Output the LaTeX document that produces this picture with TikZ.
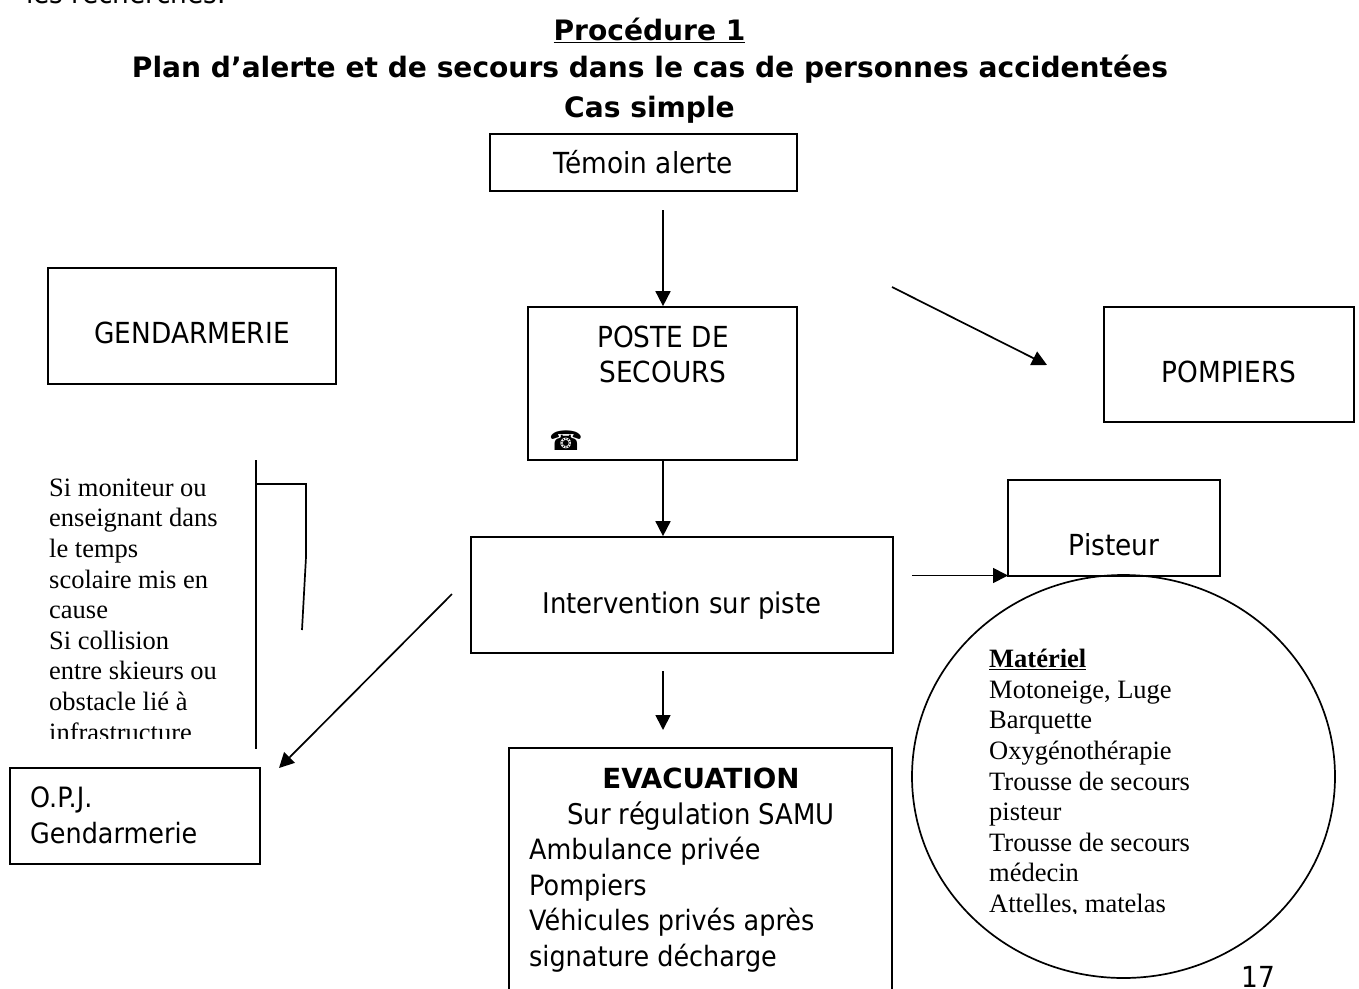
\documentclass[tikz,border=0pt]{standalone}
\usepackage{fontspec}
\usetikzlibrary{arrows.meta,shapes.geometric}
\setmainfont{DejaVu Sans}[FakeStretch=0.91]
\newfontfamily\boldfam{DejaVu Sans}
\newcommand{\boldf}{\boldfam\bfseries}
\newfontfamily\serf{Liberation Serif}
\newfontfamily\symf{DejaVu Sans}
\tikzset{
  boxx/.style={draw=black,line width=1.7pt,fill=white,inner sep=0pt},
  conn/.style={draw=black,line width=1.7pt},
  arr/.style={conn,-{Triangle[length=15pt,width=15pt]}},
  lbl/.style={inner sep=0pt,text=black,font=\fontsize{29}{35.5}\selectfont},
  lbn/.style={inner sep=0pt,text=black,font=\fontsize{28}{35.5}\selectfont},
  ttl/.style={inner sep=0pt,text=black,font=\boldf\fontsize{28.1}{33}\selectfont},
  ser/.style={inner sep=0pt,text=black,align=left,anchor=north west,font=\serf\fontsize{26.5}{30.6}\selectfont},
}
\begin{document}
\begin{tikzpicture}[x=1pt,y=-1pt]
\useasboundingbox (0,0) rectangle (1359,988);
\clip (0,0) rectangle (1359,988);
% cut-off text at the top
\node[lbl,anchor=base west] (cut) at (26,3) {les recherches.};
% titles
\node[ttl,anchor=base] (t1) at (649.5,40) {\underline{Procédure 1}};
\node[ttl,anchor=base] (t2) at (650,77) {Plan d’alerte et de secours dans le cas de personnes accidentées};
\node[ttl,anchor=base] (t3) at (649.5,117.5) {Cas simple};
% boxes
\node[boxx,minimum width=307pt,minimum height=57pt] (temoin) at (643.5,162.5) {};
\node[boxx,minimum width=269pt,minimum height=153pt] (poste) at (662.5,383.5) {};
\node[boxx,minimum width=422pt,minimum height=116pt] (interv) at (682,595) {};
\node[boxx,minimum width=383pt,minimum height=260pt] (evac) at (700.5,878) {};
\node[boxx,minimum width=288pt,minimum height=116pt] (gend) at (192,326) {};
\node[boxx,minimum width=250pt,minimum height=115pt] (pomp) at (1229,364.5) {};
\node[boxx,minimum width=212pt,minimum height=96pt] (pist) at (1114,528) {};
\node[boxx,minimum width=250pt,minimum height=96pt] (opj) at (135,816) {};
\node[boxx,fill=none,ellipse,minimum width=423pt,minimum height=403pt] (mat) at (1123.5,776.5) {};
% free ends
\coordinate (a1) at (663,210);
\coordinate (a2) at (663,671);
\coordinate (a2e) at (663,730);
\coordinate (a3) at (892,287);
\coordinate (a3e) at (1047,365);
\coordinate (a4) at (912,575.5);
\coordinate (a4e) at (1008,575.5);
\coordinate (a5) at (452,594);
\coordinate (a5e) at (279,768);
\coordinate (v1) at (256,460);
\coordinate (v2) at (256,749);
\coordinate (b1) at (256,484);
\coordinate (b2) at (306,484);
\coordinate (b3) at (306,557);
\coordinate (b4) at (302,630);
% connectors
\draw[arr] (a1) -- (a1 |- poste.north);
\draw[arr] (a1 |- poste.south) -- (a1 |- interv.north);
\draw[arr] (a2) -- (a2e);
\draw[arr] (a3) -- (a3e);
\draw[arr] (a4) -- (a4e);
\draw[arr] (a5) -- (a5e);
\draw[conn] (v1) -- (v2);
\draw[conn] (b1) -- (b2) -- (b3) -- (b4);
% box texts
\node[lbl,anchor=base] (xtem) at (643.5,173) {Témoin alerte};
\node[lbl,anchor=base] (xgen) at (192,343) {GENDARMERIE};
\node[lbl,anchor=base] (xpo1) at (663,347) {POSTE DE};
\node[lbl,anchor=base] (xpo2) at (663,382) {SECOURS};
\node[lbl,anchor=base] (xpom) at (1229,382) {POMPIERS};
\node[lbl,anchor=base,font=\fontsize{28.5}{35.5}\selectfont] (xint) at (682,613) {Intervention sur piste};
\node[lbl,anchor=base] (xpis) at (1114,555) {Pisteur};
\node[lbn,anchor=base west] (xop1) at (30,807) {O.P.J.};
\node[lbn,anchor=base west] (xop2) at (30,843) {Gendarmerie};
\node[lbl,anchor=base] (xev1) at (701,788) {\boldf\fontsize{27.7}{33}\selectfont EVACUATION};
\node[lbl,anchor=base,font=\fontsize{28.5}{35.5}\selectfont] (xev2) at (701,824) {Sur régulation SAMU};
\node[lbn,anchor=base west] (xev3) at (529,859) {Ambulance privée};
\node[lbn,anchor=base west] (xev4) at (529,895) {Pompiers};
\node[lbn,anchor=base west] (xev5) at (529,930) {Véhicules privés après};
\node[lbn,anchor=base west] (xev6) at (529,966) {signature décharge};
\node[lbl,anchor=base] (xnum) at (1258,987) {17};
\node[inner sep=0pt,anchor=center,font=\symf\fontsize{27}{27}\selectfont] (phone) at (566,441) {☎};
% serif texts, cut at the foot as in the picture
\begin{scope}
\clip (40,470) rectangle (250,738);
\node[ser] (si) at (49,478.5) {Si moniteur ou\\enseignant dans\\le temps\\scolaire mis en\\cause\\Si collision\\entre skieurs ou\\obstacle lié à\\infrastructure};
\end{scope}
\begin{scope}
\clip (980,640) rectangle (1250,913);
\node[ser] (m) at (989,649) {\textbf{\underline{Matériel}}\\Motoneige, Luge\\Barquette\\Oxygénothérapie\\Trousse de secours\\pisteur\\Trousse de secours\\médecin\\Attelles, matelas};
\end{scope}
\end{tikzpicture}
\end{document}
